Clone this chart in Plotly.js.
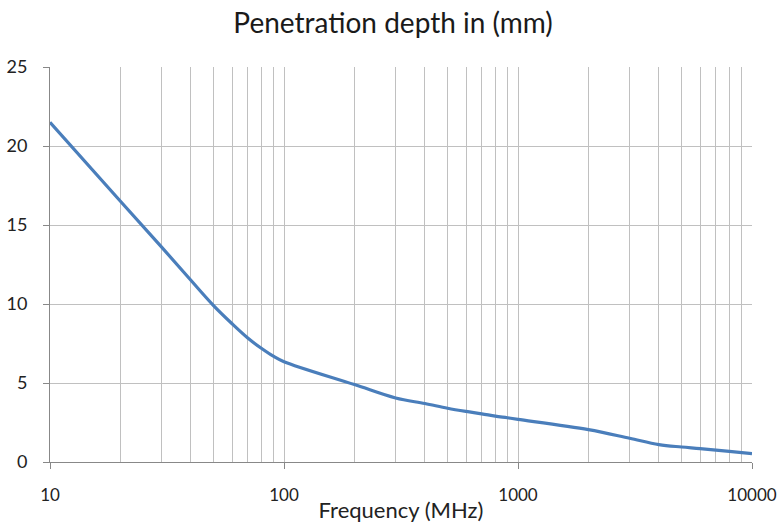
<!DOCTYPE html>
<html>
<head>
<meta charset="utf-8">
<script src="https://cdn.plot.ly/plotly-3.0.1.min.js"></script>
<style>html,body{margin:0;padding:0;background:#fff;}#chart{width:783px;height:523px;}</style>
</head>
<body>
<div id="chart"></div>
<script>
const frequencyMHz = [10, 20, 30, 40, 50, 60, 70, 80, 90, 100, 200, 300, 400, 500, 600, 700, 800, 900, 1000, 2000, 3000, 4000, 5000, 6000, 8000, 10000];
const depthMm = [21.5, 16.5, 13.6, 11.5, 9.9, 8.75, 7.85, 7.2, 6.7, 6.35, 4.9, 4.05, 3.7, 3.4, 3.2, 3.05, 2.9, 2.8, 2.7, 2.05, 1.5, 1.1, 0.95, 0.85, 0.67, 0.53];
const xTickVals = [10, 100, 1000, 10000];
const xTickText = ['10', '100', '1000', '10000'];
const yTickVals = [0, 5, 10, 15, 20, 25];

const fontFam = 'Lato, "Open Sans", sans-serif';
const trace = {
  x: frequencyMHz, y: depthMm, type: 'scatter', mode: 'lines',
  line: {color: '#4a7ebb', width: 3.2, shape: 'spline', smoothing: 1.0},
  hoverinfo: 'skip'
};
const layout = {
  width: 783, height: 523,
  margin: {l: 50, r: 31, t: 67, b: 61},
  paper_bgcolor: '#ffffff', plot_bgcolor: '#ffffff',
  showlegend: false,
  title: {text: 'Penetration depth in (mm)', x: 0.502, xanchor: 'center', y: 0.955, yanchor: 'middle',
          font: {family: fontFam, size: 28, color: '#1a1a1a'}},
  xaxis: {
    type: 'log', range: [1, 4],
    tickvals: xTickVals, ticktext: xTickText,
    ticks: 'outside', ticklen: 6, tickcolor: '#888888',
    tickfont: {family: fontFam, size: 17, color: '#222'},
    ticklabelstandoff: 12,
    showgrid: true, gridcolor: '#c0c0c0', gridwidth: 1,
    minor: {dtick: 'D1', showgrid: true, gridcolor: '#c0c0c0', gridwidth: 1, ticks: ''},
    showline: true, linecolor: '#888888', linewidth: 1,
    zeroline: false,
    title: {text: 'Frequency (MHz)', standoff: 0, font: {family: fontFam, size: 22, color: '#222'}}
  },
  yaxis: {
    range: [0, 25], tickvals: yTickVals,
    ticks: 'outside', ticklen: 6, tickcolor: '#888888',
    tickfont: {family: fontFam, size: 18, color: '#222'},
    ticklabelstandoff: 12,
    showgrid: true, gridcolor: '#c0c0c0', gridwidth: 1,
    showline: true, linecolor: '#888888', linewidth: 1,
    zeroline: false
  }
};
Plotly.newPlot('chart', [trace], layout, {displayModeBar: false, staticPlot: true});
</script>
</body>
</html>
